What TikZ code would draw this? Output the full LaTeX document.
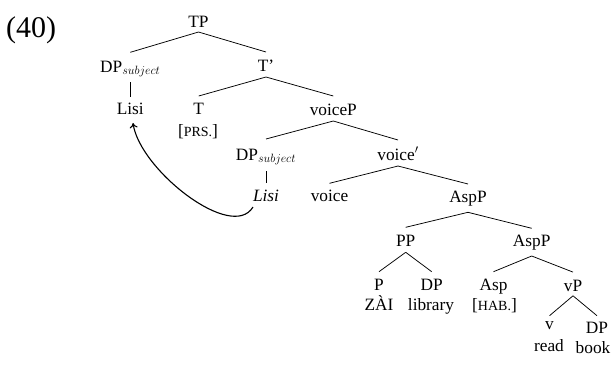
\documentclass[tikz,border=0pt]{standalone}
\usepackage{fontspec}
\setmainfont{Liberation Serif}
\usetikzlibrary{arrows.meta}
\begin{document}
\begin{tikzpicture}[x=1pt,y=-1pt,
  lbl/.style={anchor=base,inner sep=0pt,font=\fontsize{17.3}{20}\selectfont},
  feat/.style={anchor=base,inner sep=0pt,font=\fontsize{17.3}{20}\selectfont},
  edge/.style={line width=0.75pt},
  move/.style={line width=1.1pt,-{To[length=5pt,width=8pt]}}]
\useasboundingbox (0,0) rectangle (611,376);
\newcommand{\smc}[1]{{\fontsize{14}{16}\selectfont #1}}
\node[anchor=base west,inner sep=0pt,font=\fontsize{30}{32}\selectfont] (ex) at (6,37.3) {(40)};
% nodes
\node[lbl] (TP) at (198.5,27) {TP};
\node[lbl] (DP1) at (130.3,72) {DP$_{subject}$};
\node[lbl] (Tb) at (266,71) {T'};
\node[lbl] (Lisi1) at (130.3,114.3) {Lisi};
\node[lbl] (T) at (198.7,114.3) {T};
\node[feat] (PRS) at (198,136) {[\smc{PRS.}]};
\node[lbl] (voiceP) at (333.3,115) {voiceP};
\node[lbl] (DP2) at (266,160) {DP$_{subject}$};
\node[lbl] (voicebar) at (398,160) {voice$'$};
\node[lbl] (Lisi2) at (266,201.7) {\textit{Lisi}};
\node[lbl] (voice) at (329.5,201.7) {voice};
\node[lbl] (AspP1) at (468,202.7) {AspP};
\node[lbl] (PP) at (405.7,246.7) {PP};
\node[lbl] (AspP2) at (531.7,246.7) {AspP};
\node[lbl] (P) at (379,290) {P};
\node[lbl] (DP4) at (431.7,290) {DP};
\node[feat] (ZAI) at (379,310.7) {ZÀI};
\node[feat] (library) at (431,310.7) {library};
\node[lbl] (Asp) at (493.5,290) {Asp};
\node[feat] (HAB) at (494.5,310.7) {[\smc{HAB.}]};
\node[lbl] (vP) at (573,291.5) {vP};
\node[lbl] (v) at (549.5,329.3) {v};
\node[feat] (read) at (549,351.7) {read};
\node[lbl] (DP3) at (597,333.3) {DP};
\node[feat] (book) at (593,353.3) {book};
% branching edges: parent/parent-shift/child/child-shift
\foreach \p/\ps/\c/\cs in {
  TP/5/DP1/19.7, TP/5/Tb/19,
  Tb/6/T/18.3, Tb/6/voiceP/19,
  voiceP/6/DP2/21, voiceP/6/voicebar/20,
  voicebar/6/voice/18.4, voicebar/6/AspP1/18.7,
  AspP1/9.6/PP/19.4, AspP1/9.6/AspP2/18.4,
  PP/5.6/P/18.3, PP/5.6/DP4/18.3,
  AspP2/9.3/Asp/18.3, AspP2/9.3/vP/19.4,
  vP/4.3/v/13.6, vP/4.3/DP3/17.6}
  \draw[edge] ([yshift=-\ps pt]\p.base) -- ([yshift=\cs pt]\c.base);
% unary edges
\draw[edge] ([yshift=-10.3pt]DP1.base) -- ([yshift=17.3pt]Lisi1.base);
\draw[edge] ([yshift=-11pt]DP2.base) -- ([yshift=18.7pt]Lisi2.base);
% movement arrow
\draw[move] ([xshift=-13pt,yshift=-5.3pt]Lisi2.base) .. controls (232,242) and (140,170) .. ([xshift=2.7pt,yshift=-8.7pt]Lisi1.base);
\end{tikzpicture}
\end{document}
